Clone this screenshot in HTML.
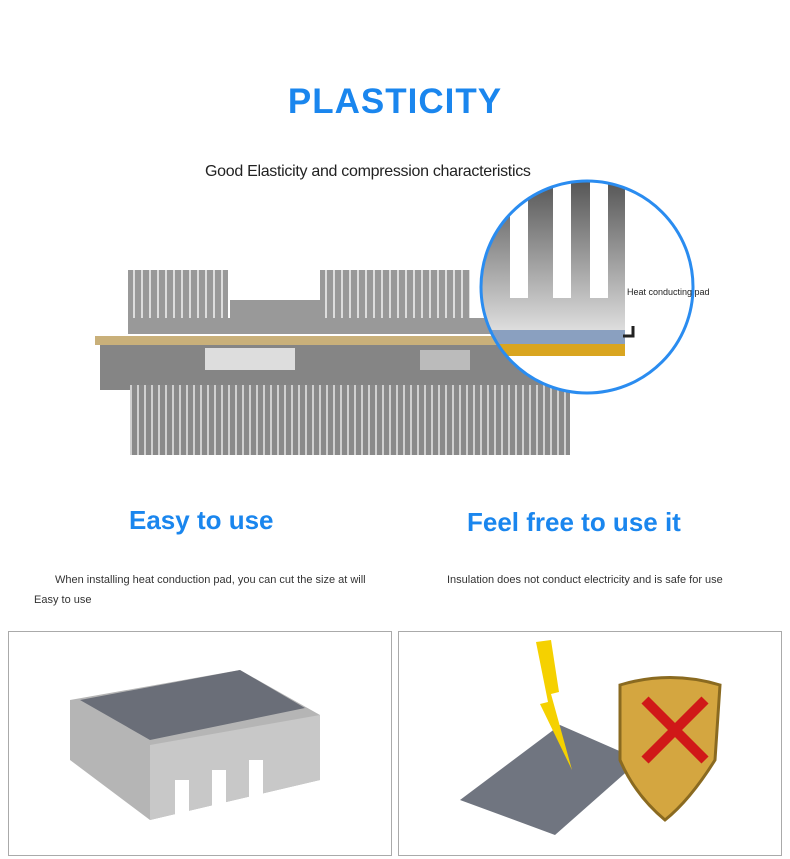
<!DOCTYPE html>
<html><head><meta charset="utf-8"><style>
body{margin:0;background:#fff;width:790px;height:859px;position:relative;overflow:hidden;font-family:"Liberation Sans",sans-serif}
.t{position:absolute;white-space:nowrap}
</style></head><body>
<div class="t" style="left:0;width:790px;top:82px;text-align:center;font-size:35px;font-weight:bold;color:#1a86ee;letter-spacing:1px">PLASTICITY</div>
<div class="t" style="left:205px;top:163px;font-size:16px;color:#222;letter-spacing:-0.3px">Good Elasticity and compression characteristics</div>
<svg style="position:absolute;left:0;top:0" width="790" height="480">
<defs>
<linearGradient id="g2" x1="0" x2="0" y1="0" y2="1"><stop offset="0" stop-color="#555"/><stop offset="1" stop-color="#ddd"/></linearGradient>
<pattern id="fin" width="8" height="10" patternUnits="userSpaceOnUse"><rect width="8" height="10" fill="#999"/><rect x="5" width="2" height="10" fill="#ddd"/></pattern>
<pattern id="fin2" width="7" height="10" patternUnits="userSpaceOnUse"><rect width="7" height="10" fill="#8a8a8a"/><rect x="4" width="2" height="10" fill="#d0d0d0"/></pattern>
<clipPath id="cc"><circle cx="587" cy="287" r="105"/></clipPath>
</defs>
<rect x="128" y="270" width="100" height="55" fill="url(#fin)"/>
<rect x="230" y="300" width="90" height="25" fill="#999"/>
<rect x="320" y="270" width="150" height="55" fill="url(#fin)"/>
<rect x="128" y="318" width="380" height="16" fill="#999"/>
<rect x="95" y="336" width="525" height="9" fill="#c9b07a"/>
<rect x="100" y="345" width="470" height="45" fill="#858585"/>
<rect x="130" y="385" width="440" height="70" fill="url(#fin2)"/>
<rect x="205" y="348" width="90" height="22" fill="#ddd"/>
<rect x="420" y="350" width="50" height="20" fill="#bbb"/>
<g clip-path="url(#cc)">
<rect x="480" y="180" width="215" height="215" fill="#fff"/>
<rect x="480" y="180" width="145" height="150" fill="url(#g2)"/>
<rect x="510" y="180" width="18" height="118" fill="#fff"/>
<rect x="553" y="180" width="18" height="118" fill="#fff"/>
<rect x="590" y="180" width="18" height="118" fill="#fff"/>
<rect x="480" y="330" width="145" height="14" fill="#8aa0c0"/>
<rect x="480" y="344" width="145" height="12" fill="#d9a520"/>
</g>
<circle cx="587" cy="287" r="106" fill="none" stroke="#2a8cf0" stroke-width="3"/>
<text x="627" y="295" font-size="9" fill="#222" font-family="Liberation Sans">Heat conducting pad</text>
<path d="M633 326 v10 h-10" stroke="#222" stroke-width="3" fill="none"/>
</svg>
<div class="t" style="left:129px;top:505px;font-size:26px;font-weight:bold;color:#1a86ee">Easy to use</div>
<div class="t" style="left:467px;top:507px;font-size:26px;font-weight:bold;color:#1a86ee">Feel free to use it</div>
<div class="t" style="left:55px;top:574px;font-size:11px;color:#333">When installing heat conduction pad, you can cut the size at will</div>
<div class="t" style="left:34px;top:594px;font-size:11px;color:#333">Easy to use</div>
<div class="t" style="left:447px;top:574px;font-size:11px;color:#333">Insulation does not conduct electricity and is safe for use</div>
<div style="position:absolute;left:8px;top:631px;width:382px;height:223px;border:1px solid #aaa"></div>
<div style="position:absolute;left:398px;top:631px;width:382px;height:223px;border:1px solid #aaa"></div>
<svg style="position:absolute;left:0;top:630px" width="790" height="229">
<polygon points="70,70 240,40 320,85 320,150 150,190 70,130" fill="#b5b5b5"/>
<polygon points="150,115 320,85 320,150 150,190" fill="#c8c8c8"/>
<g fill="#fff"><rect x="175" y="150" width="14" height="40"/><rect x="212" y="140" width="14" height="40"/><rect x="249" y="130" width="14" height="40"/></g>
<polygon points="80,70 240,40 305,78 150,110" fill="#6a6e78"/>
<polygon points="460,170 560,95 640,130 555,205" fill="#707580"/>
<polygon points="536,12 551,10 559,62 551,64 572,140 540,74 548,72" fill="#f5d100"/>
<path d="M620,55 Q670,40 720,55 L715,130 Q690,170 665,190 Q635,165 620,130 Z" fill="#d4a640" stroke="#8a6a20" stroke-width="3"/>
<path d="M645,70 L705,130 M705,70 L645,130" stroke="#d01818" stroke-width="10"/>
</svg>
</body></html>
